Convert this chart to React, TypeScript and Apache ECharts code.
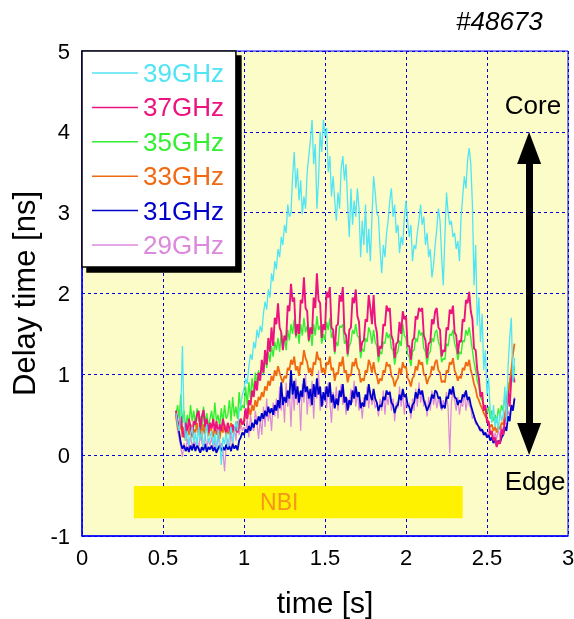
import React, { useEffect, useRef } from "react";
import * as echarts from "echarts";

// sampling grid of the traces (s)
const T0 = 0.58;
const DT = 0.01;
const N = 210;
const times: number[] = Array.from({ length: N }, (_, i) => +(T0 + i * DT).toFixed(2));

const xTicks = { min: 0, max: 3, interval: 0.5 };
const yTicks = { min: -1, max: 5, interval: 1 };

const names = ["39GHz", "37GHz", "35GHz", "33GHz", "31GHz", "29GHz"];
const colors = ["#50E4F5", "#EC1280", "#33EE33", "#F06A14", "#0000CC", "#DC88DC"];

// delay time [ns], rows of 0.1 s
const cyan39 = [
  0.52, 0.38,
  0.30, 0.55, 1.35, 0.42, 0.18, 0.30, 0.12, 0.25, 0.35, 0.15,
  0.28, 0.12, 0.35, 0.18, 0.30, 0.10, 0.25, 0.38, 0.15, 0.22,
  0.30, 0.12, 0.26, 0.08, 0.32, 0.18, -0.12, 0.22, 0.14, 0.28,
  0.10, 0.24, 0.35, 0.16, 0.28, 0.42, 0.30, 0.55, 0.62, 0.75,
  0.82, 0.95, 0.88, 1.10, 1.25, 1.18, 1.40, 1.32, 1.55, 1.45,
  1.60, 1.52, 1.75, 1.90, 1.80, 2.05, 1.95, 2.25, 2.15, 2.40,
  2.30, 2.55, 2.45, 2.70, 2.60, 2.85, 2.75, 3.10, 2.95, 3.00,
  3.45, 3.75, 3.30, 3.55, 3.15, 3.40, 2.98, 3.20, 3.05, 3.50,
  3.70, 3.90, 4.15, 3.60, 3.85, 3.05, 3.40, 4.00, 3.75, 4.15,
  3.95, 4.05, 3.50, 3.70, 3.20, 3.45, 3.15, 2.90, 3.25, 3.05,
  3.55, 3.70, 3.40, 3.60, 3.10, 2.70, 3.30, 2.85, 3.15, 2.95,
  3.30, 3.05, 2.45, 2.90, 2.60, 3.10, 2.50, 2.80, 2.40, 2.95,
  3.45, 3.25, 3.00, 2.95, 2.55, 2.25, 2.60, 2.45, 2.75, 2.90,
  3.15, 3.30, 2.95, 3.10, 2.75, 2.85, 2.50, 2.70, 2.60, 2.95,
  3.15, 2.90, 2.70, 2.85, 2.40, 2.60, 2.55, 2.75, 2.90, 3.10,
  2.85, 2.95, 2.60, 2.75, 2.45, 2.55, 2.20, 2.35, 2.60, 2.80,
  3.05, 2.90, 2.45, 2.10, 2.70, 3.25, 3.00, 2.85, 2.90, 2.70,
  2.75, 2.55, 2.65, 2.40, 2.95, 3.20, 3.45, 3.30, 3.65, 3.80,
  3.60, 3.10, 2.10, 2.60, 1.60, 1.95, 1.40, 1.75, 1.05, 1.30,
  0.75, 0.95, 0.55, 0.40, 0.62, 0.35, 0.48, 0.30, 0.55, 0.42,
  0.50, 0.85, 0.40, 1.10, 1.45, 1.70, 0.90, 1.20,
];

const pink37 = [
  0.55, 0.42,
  0.35, 0.48, 0.30, 0.22, 0.40, 0.28, 0.45, 0.35, 0.25, 0.42,
  0.38, 0.50, 0.55, 0.32, 0.48, 0.56, 0.35, 0.45, 0.28, 0.40,
  0.33, 0.45, 0.30, 0.42, 0.25, 0.38, 0.30, 0.45, 0.35, 0.28,
  0.40, 0.32, 0.26, 0.38, 0.30, 0.35, 0.28, 0.40, 0.45, 0.38,
  0.42, 0.58, 0.45, 0.68, 0.62, 0.80, 0.72, 0.92, 0.80, 1.02,
  0.92, 1.18, 1.02, 1.30, 1.12, 1.45, 1.28, 1.58, 1.35, 1.70,
  1.62, 1.88, 1.58, 1.52, 1.30, 1.48, 1.42, 1.85, 1.78, 2.12,
  1.90, 1.95, 1.48, 1.62, 1.50, 1.92, 1.88, 2.20, 1.82, 1.78,
  1.42, 1.58, 1.50, 1.95, 1.82, 2.25, 1.92, 1.88, 1.45, 1.62,
  1.55, 2.02, 1.95, 2.08, 1.58, 1.55, 1.28, 1.60, 1.62, 1.98,
  1.90, 2.08, 1.52, 1.48, 1.25, 1.55, 1.58, 1.95, 1.88, 2.05,
  1.72, 1.65, 1.28, 1.40, 1.42, 1.68, 1.65, 1.98, 1.82, 1.62,
  1.98, 1.62, 1.52, 1.22, 1.35, 1.32, 1.62, 1.60, 1.85, 1.78,
  1.82, 1.48, 1.42, 1.20, 1.38, 1.40, 1.65, 1.50, 1.78, 1.68,
  1.72, 1.35, 1.35, 1.18, 1.42, 1.45, 1.72, 1.68, 1.82, 1.78,
  1.82, 1.48, 1.42, 1.20, 1.38, 1.40, 1.68, 1.62, 1.78, 1.82,
  1.58, 1.55, 1.22, 1.30, 1.28, 1.58, 1.55, 1.80, 1.75, 1.85,
  1.52, 1.48, 1.25, 1.42, 1.40, 1.68, 1.65, 1.92, 1.88, 2.02,
  1.78, 1.68, 1.32, 1.30, 1.05, 0.95, 0.72, 0.78, 0.55, 0.62,
  0.40, 0.42, 0.25, 0.30, 0.18, 0.22, 0.10, 0.18, 0.14, 0.32,
  0.25, 0.42, 0.48, 0.80, 0.60, 0.95, 1.00, 0.90,
];

const green35 = [
  0.50, 0.62,
  0.45, 0.75, 0.40, 0.55, 0.32, 0.50, 0.38, 0.62, 0.42, 0.55,
  0.35, 0.58, 0.42, 0.48, 0.30, 0.60, 0.40, 0.52, 0.36, 0.45,
  0.55, 0.38, 0.65, 0.42, 0.50, 0.35, 0.58, 0.40, 0.62, 0.45,
  0.50, 0.68, 0.42, 0.72, 0.48, 0.60, 0.45, 0.78, 0.55, 0.62,
  0.58, 0.85, 0.62, 0.90, 0.70, 0.95, 0.78, 1.02, 0.88, 1.05,
  0.95, 1.12, 1.00, 1.20, 1.08, 1.28, 1.15, 1.35, 1.22, 1.40,
  1.30, 1.45, 1.28, 1.52, 1.35, 1.48, 1.30, 1.55, 1.42, 1.62,
  1.50, 1.68, 1.45, 1.58, 1.38, 1.62, 1.48, 1.70, 1.52, 1.60,
  1.40, 1.55, 1.35, 1.62, 1.48, 1.72, 1.55, 1.60, 1.38, 1.50,
  1.42, 1.65, 1.55, 1.70, 1.45, 1.52, 1.25, 1.40, 1.35, 1.60,
  1.58, 1.62, 1.38, 1.42, 1.22, 1.35, 1.40, 1.55, 1.50, 1.62,
  1.48, 1.45, 1.20, 1.32, 1.28, 1.45, 1.40, 1.58, 1.52, 1.38,
  1.55, 1.40, 1.35, 1.15, 1.28, 1.25, 1.40, 1.38, 1.52, 1.45,
  1.50, 1.32, 1.30, 1.12, 1.25, 1.28, 1.42, 1.35, 1.62, 1.48,
  1.45, 1.25, 1.22, 1.10, 1.28, 1.30, 1.45, 1.40, 1.55, 1.48,
  1.52, 1.32, 1.28, 1.12, 1.25, 1.28, 1.45, 1.40, 1.52, 1.55,
  1.40, 1.35, 1.15, 1.20, 1.18, 1.38, 1.35, 1.50, 1.48, 1.55,
  1.38, 1.32, 1.18, 1.28, 1.25, 1.42, 1.40, 1.55, 1.48, 1.58,
  1.45, 1.30, 1.15, 1.05, 0.92, 0.85, 0.72, 0.68, 0.62, 0.58,
  0.52, 0.60, 0.45, 0.55, 0.42, 0.50, 0.40, 0.58, 0.48, 0.62,
  0.55, 0.72, 0.65, 0.90, 0.80, 1.05, 0.92, 1.10,
];

const orange33 = [
  0.48, 0.35,
  0.30, 0.42, 0.22, 0.35, 0.18, 0.30, 0.25, 0.38, 0.22, 0.32,
  0.28, 0.40, 0.25, 0.35, 0.20, 0.38, 0.26, 0.42, 0.24, 0.34,
  0.30, 0.22, 0.36, 0.25, 0.32, 0.20, 0.35, 0.28, 0.38, 0.24,
  0.32, 0.26, 0.40, 0.28, 0.35, 0.30, 0.42, 0.32, 0.45, 0.38,
  0.40, 0.52, 0.45, 0.58, 0.50, 0.62, 0.55, 0.68, 0.60, 0.72,
  0.68, 0.78, 0.72, 0.85, 0.80, 0.92, 0.86, 0.98, 0.92, 1.05,
  0.98, 1.10, 1.02, 0.95, 0.90, 0.98, 0.95, 1.08, 1.05, 1.18,
  1.12, 1.22, 1.05, 1.10, 0.98, 1.15, 1.12, 1.30, 1.20, 1.15,
  1.02, 1.08, 0.98, 1.15, 1.12, 1.28, 1.18, 1.20, 1.02, 1.08,
  1.00, 1.15, 1.12, 1.22, 1.05, 1.08, 0.92, 1.02, 1.00, 1.15,
  1.10, 1.22, 1.02, 1.05, 0.90, 1.00, 0.98, 1.15, 1.10, 1.20,
  1.08, 1.05, 0.90, 0.95, 0.92, 1.05, 1.02, 1.18, 1.12, 1.02,
  1.15, 1.02, 0.98, 0.88, 0.95, 0.92, 1.05, 1.02, 1.15, 1.10,
  1.12, 0.98, 0.95, 0.85, 0.92, 0.95, 1.08, 1.00, 1.15, 1.08,
  1.10, 0.95, 0.92, 0.85, 0.95, 0.98, 1.10, 1.05, 1.18, 1.12,
  1.15, 1.00, 0.98, 0.88, 0.95, 0.98, 1.10, 1.05, 1.15, 1.18,
  1.05, 1.02, 0.90, 0.92, 0.90, 1.05, 1.02, 1.15, 1.12, 1.20,
  1.05, 1.00, 0.92, 0.98, 0.95, 1.08, 1.05, 1.15, 1.10, 1.18,
  1.05, 0.98, 0.88, 0.82, 0.72, 0.68, 0.62, 0.58, 0.52, 0.48,
  0.45, 0.40, 0.35, 0.38, 0.30, 0.35, 0.28, 0.36, 0.32, 0.40,
  0.38, 0.50, 0.62, 0.75, 0.90, 1.05, 1.25, 1.38,
];

const blue31 = [
  0.52, 0.40,
  0.28, 0.15, 0.08, 0.12, 0.05, 0.10, 0.04, 0.12, 0.06, 0.14,
  0.05, 0.12, 0.08, 0.03, 0.10, 0.06, 0.14, 0.04, 0.10, 0.07,
  0.12, 0.05, 0.10, 0.03, 0.08, 0.12, 0.05, 0.10, 0.06, 0.13,
  0.07, 0.11, 0.05, 0.14, 0.08, 0.12, 0.06, 0.18, 0.22, 0.28,
  0.25, 0.32, 0.28, 0.36, 0.30, 0.40, 0.34, 0.44, 0.38, 0.48,
  0.42, 0.52, 0.45, 0.55, 0.48, 0.60, 0.52, 0.58, 0.50, 0.62,
  0.55, 0.68, 0.58, 0.90, 0.62, 0.72, 0.65, 0.80, 0.70, 1.05,
  0.75, 0.92, 0.70, 0.85, 0.65, 0.80, 0.72, 0.95, 0.78, 0.85,
  0.70, 0.82, 0.62, 0.88, 0.72, 0.95, 0.75, 0.85, 0.60, 0.78,
  0.68, 0.85, 0.72, 0.90, 0.65, 0.75, 0.58, 0.70, 0.62, 0.80,
  0.72, 0.88, 0.65, 0.72, 0.55, 0.68, 0.62, 0.80, 0.70, 0.85,
  0.72, 0.78, 0.58, 0.65, 0.60, 0.75, 0.68, 0.88, 0.75, 0.68,
  0.82, 0.70, 0.65, 0.55, 0.62, 0.60, 0.72, 0.68, 0.80, 0.75,
  0.78, 0.65, 0.62, 0.52, 0.60, 0.62, 0.75, 0.68, 0.82, 0.72,
  0.75, 0.62, 0.60, 0.52, 0.62, 0.65, 0.78, 0.70, 0.82, 0.75,
  0.80, 0.68, 0.62, 0.55, 0.60, 0.65, 0.75, 0.70, 0.80, 0.78,
  0.70, 0.72, 0.58, 0.62, 0.58, 0.72, 0.70, 0.82, 0.75, 0.85,
  0.72, 0.70, 0.62, 0.68, 0.65, 0.75, 0.72, 0.80, 0.68, 0.72,
  0.62, 0.55, 0.48, 0.42, 0.38, 0.35, 0.30, 0.32, 0.25, 0.28,
  0.22, 0.25, 0.18, 0.22, 0.15, 0.20, 0.12, 0.18, 0.15, 0.22,
  0.25, 0.35, 0.30, 0.48, 0.42, 0.62, 0.55, 0.70,
];

const violet29 = [
  0.55, 0.30,
  0.20, 0.10, -0.02, 0.15, 0.05, 0.20, 0.08, 0.25, 0.10, 0.18,
  0.12, 0.22, 0.05, 0.30, 0.15, 0.08, 0.25, 0.10, 0.20, 0.12,
  0.22, 0.08, 0.18, 0.02, 0.25, 0.10, 0.15, 0.05, -0.20, 0.12,
  0.20, 0.08, 0.28, 0.12, 0.35, 0.18, 0.42, 0.25, 0.38, 0.30,
  0.35, 0.28, 0.45, 0.22, 0.50, 0.35, 0.30, 0.55, 0.40, 0.20,
  0.45, 0.25, 0.60, 0.35, 0.70, 0.42, 0.55, 0.30, 0.65, 0.48,
  0.70, 0.45, 0.85, 0.55, 0.75, 0.40, 0.90, 0.60, 0.80, 0.35,
  0.85, 0.55, 0.95, 0.62, 0.78, 0.30, 0.88, 0.65, 1.00, 0.50,
  0.80, 0.60, 0.92, 0.45, 0.85, 0.70, 1.05, 0.55, 0.75, 0.62,
  0.85, 0.58, 0.90, 0.65, 0.40, 0.78, 0.60, 0.85, 0.55, 0.72,
  0.88, 0.62, 0.75, 0.50, 0.70, 0.58, 0.82, 0.65, 0.92, 0.60,
  0.78, 0.55, 0.68, 0.45, 0.72, 0.60, 0.85, 0.58, 0.80, 0.62,
  0.72, 0.58, 0.65, 0.48, 0.70, 0.55, 0.80, 0.50, 0.75, 0.62,
  0.80, 0.55, 0.70, 0.42, 0.65, 0.58, 0.85, 0.60, 0.78, 0.50,
  0.72, 0.58, 0.65, 0.45, 0.70, 0.55, 0.82, 0.60, 0.90, 0.65,
  0.78, 0.60, 0.68, 0.48, 0.72, 0.55, 0.80, 0.62, 0.75, 0.58,
  0.70, 0.62, 0.55, 0.68, 0.60, 0.78, 0.58, 0.02, 0.65, 0.80,
  0.68, 0.55, 0.72, 0.50, 0.65, 0.60, 0.78, 0.55, 0.70, 0.62,
  0.58, 0.45, 0.50, 0.38, 0.40, 0.32, 0.35, 0.28, 0.30, 0.25,
  0.22, 0.30, 0.18, 0.25, 0.15, 0.28, 0.20, 0.32, 0.22, 0.35,
  0.30, 0.45, 0.38, 0.55, 0.48, 0.62, 0.58, 0.72,
];

// NBI heating period (s) and band position on the delay axis
const nbiStart = 0.32;
const nbiEnd = 2.35;
const nbiBand = [-0.38, -0.78];
// Core/Edge arrow (t, from, to)
const arrowT = 2.76;
const arrowRange = [0.2, 3.8];

const FONT = "'Liberation Sans', Arial, Helvetica, sans-serif";

export default function App() {
  const ref = useRef<HTMLDivElement>(null);
  useEffect(() => {
    if (!ref.current) return;
    const chart = echarts.init(ref.current, null, { renderer: "svg" });
    const seriesValues = [cyan39, pink37, green35, orange33, blue31, violet29];
    const widths = [1.3, 1.9, 1.4, 1.8, 1.8, 1.2];
    const pair = (vals: number[]) => vals.map((v, i) => [times[i], v]);
    // draw order: violet, blue, green, orange, pink, cyan
    const drawOrder = [5, 4, 2, 3, 1, 0];
    const series: any[] = drawOrder.map((idx, k) => {
      const s: any = {
        name: names[idx],
        type: "line",
        symbol: "none",
        showSymbol: false,
        data: pair(seriesValues[idx]),
        lineStyle: { color: colors[idx], width: widths[idx] },
        itemStyle: { color: colors[idx] },
        z: 3 + k,
        silent: true,
      };
      if (k === drawOrder.length - 1) {
        s.markArea = {
          silent: true,
          itemStyle: { color: "#FFF200" },
          label: {
            show: true,
            position: "inside",
            offset: [-19, 0],
            color: "#F7941D",
            fontSize: 23,
            fontFamily: FONT,
          },
          data: [[
            { name: "NBI", coord: [nbiStart, nbiBand[0]] },
            { coord: [nbiEnd, nbiBand[1]] },
          ]],
        };
        s.markLine = {
          silent: true,
          symbol: ["triangle", "triangle"],
          symbolSize: [24, 32],
          label: { show: false },
          lineStyle: { color: "#000", width: 7, type: "solid" },
          itemStyle: { color: "#000" },
          emphasis: { disabled: true },
          data: [[{ coord: [arrowT, arrowRange[0]] }, { coord: [arrowT, arrowRange[1]] }]],
        };
      }
      return s;
    });

    chart.setOption({
      animation: false,
      textStyle: { fontFamily: FONT },
      title: {
        text: "#48673",
        left: 451,
        top: 3,
        textStyle: { fontStyle: "italic", fontWeight: "normal", fontSize: 26, color: "#000", fontFamily: FONT },
      },
      grid: {
        left: 82,
        top: 51,
        width: 486,
        height: 485,
        containLabel: false,
        outerBoundsMode: "none",
        show: true,
        backgroundColor: "#FCFCC8",
        borderColor: "#0000FF",
        borderWidth: 1,
      },
      legend: {
        left: 82,
        top: 51,
        orient: "vertical",
        selectedMode: false,
        padding: [9, 12, 9, 10],
        itemGap: 8.4,
        itemWidth: 46,
        itemHeight: 1.5,
        icon: "rect",
        backgroundColor: "#FFFFFF",
        borderColor: "#000",
        borderWidth: 1.5,
        borderRadius: 0,
        shadowColor: "#000",
        shadowBlur: 0,
        shadowOffsetX: 5,
        shadowOffsetY: 5,
        textStyle: { fontSize: 26, lineHeight: 26, fontFamily: FONT },
        data: names.map((n, i) => ({ name: n, textStyle: { color: colors[i] } })),
      },
      xAxis: {
        type: "value",
        min: xTicks.min,
        max: xTicks.max,
        interval: xTicks.interval,
        axisLine: { show: true, onZero: false, lineStyle: { color: "#0000FF", width: 1.5 } },
        axisTick: { show: false },
        splitLine: { show: true, lineStyle: { color: "#0000DD", type: [3, 3], width: 1 } },
        axisLabel: { color: "#000", fontSize: 22, margin: 10, fontFamily: FONT },
        name: "time [s]",
        nameLocation: "middle",
        nameGap: 51,
        nameTextStyle: { fontSize: 30, lineHeight: 30, color: "#000", fontFamily: FONT },
      },
      yAxis: {
        type: "value",
        min: yTicks.min,
        max: yTicks.max,
        interval: yTicks.interval,
        axisLine: { show: true, lineStyle: { color: "#0000FF", width: 1.5 } },
        axisTick: { show: false },
        splitLine: { show: true, lineStyle: { color: "#0000DD", type: [3, 3], width: 1 } },
        axisLabel: { color: "#000", fontSize: 22, margin: 12, fontFamily: FONT },
        name: "Delay time [ns]",
        nameLocation: "middle",
        nameGap: 42,
        nameRotate: 90,
        nameTextStyle: { fontSize: 31, color: "#000", fontFamily: FONT },
      },
      graphic: [
        {
          type: "text",
          x: 533,
          y: 105,
          style: { text: "Core", fontSize: 26, fill: "#000", align: "center", verticalAlign: "middle", font: `26px ${FONT}` },
          z: 100,
        },
        {
          type: "text",
          x: 535,
          y: 481,
          style: { text: "Edge", fontSize: 26, fill: "#000", align: "center", verticalAlign: "middle", font: `26px ${FONT}` },
          z: 100,
        },
      ],
      series,
    });
    return () => chart.dispose();
  }, []);
  return <div ref={ref} style={{ position: "fixed", left: 0, top: 0, width: 574, height: 619 }} />;
}
